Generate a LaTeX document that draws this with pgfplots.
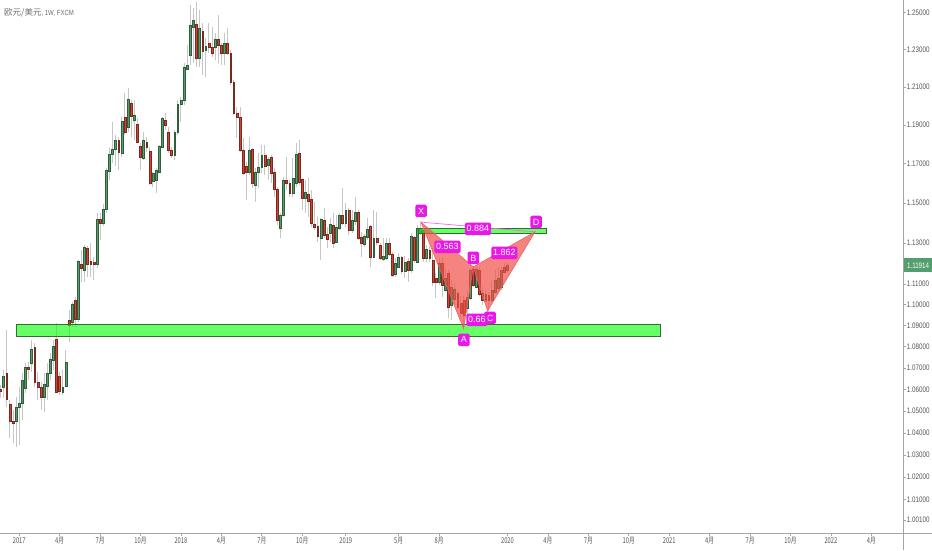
\documentclass[border=0pt]{standalone}
\usepackage{pgfplots}
\pgfplotsset{compat=1.18}
\usepackage{pgfplotstable}
\usepackage{graphicx}
\usepackage{fontspec}
\setmainfont{Liberation Sans}
\newfontfamily\cjk{Noto Sans CJK SC}
\pgfdeclarelayer{background}
\pgfsetlayers{background,main}

\definecolor{upfill}{RGB}{90,155,110}
\definecolor{updraw}{RGB}{45,95,60}
\definecolor{dnfill}{RGB}{205,70,50}
\definecolor{dndraw}{RGB}{125,40,30}
\definecolor{wickc}{RGB}{198,198,198}
\definecolor{axisgray}{RGB}{165,165,165}
\definecolor{labelgray}{RGB}{85,85,85}
\definecolor{titlegray}{RGB}{110,110,110}
\definecolor{zonefill}{RGB}{0,255,0}
\definecolor{zoneedge}{RGB}{50,110,50}
\definecolor{patfill}{RGB}{240,80,70}
\definecolor{patedge}{RGB}{238,95,110}
\definecolor{magbox}{RGB}{232,25,232}
\definecolor{magline}{RGB}{236,110,236}
\definecolor{pricegreen}{RGB}{83,158,108}

\pgfplotstableread{
w o h l c
-6 1.06022 1.06207 1.05605 1.05929
-5 1.06115 1.06907 1.05605 1.06627
-4 1.06767 1.08795 1.05190 1.05559
-3 1.05328 1.05513 1.03773 1.04547
-2 1.04547 1.05052 1.03546 1.04456
-1 1.04547 1.05652 1.03365 1.05190
0 1.05190 1.06115 1.03455 1.05374
1 1.05374 1.06767 1.04593 1.06440
2 1.06068 1.07235 1.05836 1.07047
3 1.07047 1.07282 1.06440 1.06954
4 1.07235 1.08320 1.06814 1.07894
5 1.07989 1.08178 1.06115 1.06347
6 1.06347 1.06814 1.05513 1.06115
7 1.06115 1.06347 1.05052 1.05652
8 1.05652 1.06767 1.04960 1.06254
9 1.06161 1.07235 1.05513 1.06767
10 1.06767 1.07705 1.06440 1.07423
11 1.07376 1.08320 1.06907 1.08036
12 1.08367 1.09129 1.05836 1.05882
13 1.06627 1.06814 1.05744 1.05929
14 1.05882 1.06907 1.05744 1.06115
15 1.06161 1.07847 1.06115 1.07282
16 1.09272 1.09751 1.08225 1.09033
17 1.09176 1.10136 1.08938 1.10039
18 1.10232 1.10377 1.08938 1.09320
19 1.09320 1.12179 1.09176 1.12130
20 1.11983 1.12671 1.11104 1.11787
21 1.11689 1.12918 1.11104 1.12819
22 1.12770 1.12869 1.11347 1.11983
23 1.12130 1.13017 1.11347 1.11983
24 1.12081 1.12327 1.11201 1.11983
25 1.11983 1.14510 1.11787 1.14210
26 1.14210 1.14510 1.13165 1.14010
27 1.14010 1.14961 1.13860 1.14710
28 1.14710 1.16787 1.14510 1.16685
29 1.16634 1.17813 1.16175 1.17504
30 1.17504 1.19162 1.17043 1.17761
31 1.17761 1.18486 1.16889 1.18227
32 1.18227 1.18382 1.16685 1.17607
33 1.17555 1.19423 1.17350 1.19214
34 1.19423 1.20683 1.18486 1.18641
35 1.18901 1.20948 1.18641 1.20367
36 1.20156 1.20314 1.18382 1.19475
37 1.19266 1.20314 1.18227 1.19527
38 1.19057 1.19370 1.18072 1.18123
39 1.17916 1.18072 1.16685 1.17350
40 1.17298 1.18641 1.17196 1.18227
41 1.18123 1.18382 1.17607 1.17864
42 1.17658 1.17864 1.15921 1.16022
43 1.16124 1.16583 1.15820 1.16532
44 1.16175 1.16787 1.15516 1.16685
45 1.16583 1.17968 1.16532 1.17916
46 1.17864 1.19423 1.17813 1.19370
47 1.19266 1.19632 1.18745 1.19005
48 1.18641 1.18901 1.17555 1.17710
49 1.17710 1.17864 1.17298 1.17452
50 1.17452 1.18745 1.17196 1.18641
51 1.18641 1.20314 1.18500 1.20103
52 1.20103 1.20472 1.19162 1.20314
53 1.20314 1.22278 1.20051 1.22064
54 1.21957 1.23245 1.21904 1.22171
55 1.22707 1.25421 1.22171 1.24329
56 1.24220 1.25257 1.22278 1.24601
57 1.24383 1.25586 1.22064 1.22546
58 1.22546 1.25147 1.22064 1.24166
59 1.24003 1.24438 1.21638 1.22922
60 1.22976 1.23623 1.21532 1.23191
61 1.23353 1.24438 1.22815 1.23137
62 1.23137 1.24220 1.22600 1.22815
63 1.23137 1.23895 1.22439 1.23569
64 1.23569 1.24873 1.22278 1.23245
65 1.23245 1.23353 1.22171 1.22815
66 1.22815 1.23895 1.22171 1.23353
67 1.23353 1.24166 1.22707 1.22815
68 1.22815 1.23000 1.21107 1.21266
69 1.21266 1.21372 1.19527 1.19632
70 1.19632 1.19946 1.18330 1.19423
71 1.19423 1.19946 1.17607 1.17710
72 1.17710 1.18330 1.16430 1.16532
73 1.16889 1.17094 1.15163 1.16583
74 1.16583 1.18382 1.16430 1.17710
75 1.17761 1.17813 1.15769 1.16022
76 1.15921 1.16787 1.15062 1.16583
77 1.16583 1.17555 1.15769 1.16838
78 1.16838 1.17968 1.16532 1.17452
79 1.17452 1.17968 1.16430 1.16889
80 1.16940 1.17350 1.16175 1.17247
81 1.17350 1.17452 1.16022 1.16532
82 1.16583 1.16787 1.15314 1.15718
83 1.15718 1.15820 1.13910 1.14160
84 1.13760 1.14510 1.13264 1.14410
85 1.14410 1.16328 1.14310 1.16175
86 1.16175 1.17350 1.15668 1.16022
87 1.16022 1.16175 1.15314 1.15516
88 1.15516 1.17298 1.15314 1.16277
89 1.16022 1.18072 1.15820 1.17504
90 1.17555 1.18227 1.15921 1.16073
91 1.16226 1.16277 1.14660 1.15264
92 1.15264 1.16175 1.14510 1.15567
93 1.15466 1.16277 1.14310 1.15113
94 1.15214 1.15668 1.13810 1.14010
95 1.13960 1.15062 1.13661 1.13810
96 1.13860 1.14310 1.13066 1.13363
97 1.13264 1.14260 1.12179 1.14210
98 1.14160 1.14761 1.13264 1.13413
99 1.13463 1.13810 1.12770 1.13215
100 1.13512 1.14260 1.13066 1.13960
101 1.13910 1.14510 1.12770 1.13017
102 1.13066 1.14410 1.13017 1.13810
103 1.13760 1.14510 1.13661 1.14410
104 1.14410 1.15769 1.13910 1.14010
105 1.14010 1.15012 1.13810 1.14660
106 1.14660 1.14761 1.13413 1.13661
107 1.13661 1.14660 1.13512 1.14160
108 1.14110 1.15314 1.13910 1.14560
109 1.14560 1.14660 1.13165 1.13264
110 1.13314 1.13562 1.12327 1.13017
111 1.12967 1.13463 1.12819 1.13363
112 1.13314 1.14260 1.13165 1.13711
113 1.13860 1.13910 1.11836 1.12327
114 1.12327 1.14660 1.12277 1.13264
115 1.13264 1.14560 1.12918 1.13066
116 1.12918 1.13017 1.12179 1.12277
117 1.12228 1.13264 1.12130 1.12376
118 1.12277 1.13264 1.12179 1.13017
119 1.13017 1.13264 1.12376 1.12474
120 1.12474 1.12573 1.11347 1.11445
121 1.11494 1.12277 1.11347 1.12032
122 1.11836 1.12523 1.11787 1.12327
123 1.12327 1.12376 1.11494 1.11640
124 1.11640 1.12376 1.11299 1.12081
125 1.12130 1.12277 1.11104 1.11689
126 1.11689 1.13512 1.11543 1.13363
127 1.13314 1.13363 1.12032 1.12179
128 1.12081 1.13910 1.12032 1.13760
129 1.13512 1.14050 1.13413 1.13760
130 1.13661 1.13711 1.12081 1.12277
131 1.12277 1.12918 1.12081 1.12720
132 1.12671 1.12869 1.12081 1.12277
133 1.12179 1.12770 1.10910 1.11104
134 1.11299 1.11543 1.10329 1.11104
135 1.11104 1.12277 1.10958 1.12032
136 1.12032 1.12327 1.10377 1.10958
137 1.10716 1.11787 1.10619 1.11299
138 1.11543 1.11689 1.09368 1.09895
139 1.09991 1.11201 1.09272 1.10861
140 1.10280 1.11055 1.09991 1.10764
141 1.10571 1.10668 1.09751 1.09895
142 1.10087 1.10426 1.09368 1.09607
143 1.10232 1.10426 1.08843 1.09511
144 1.09847 1.10716 1.09416 1.10377
145 1.10329 1.11787 1.10232 1.11689
146 1.11738 1.11885 1.10861 1.10958
147 1.10861 1.11836 1.10813 1.11738
148 1.11689 1.11836 1.10426 1.10523
149 1.10571 1.10861 1.09991 1.10232
150 1.10232 1.10716 1.10087 1.10523
151 1.10474 1.10619 1.09703 1.10232
152 1.10232 1.11201 1.10136 1.10716
153 1.10619 1.11689 1.10571 1.11201
154 1.10813 1.11836 1.10619 1.11299
155 1.10861 1.11836 1.10716 1.11689
156 1.11836 1.12032 1.11543 1.11592
157 1.11689 1.12032 1.11592 1.11914
}\candles

\begin{document}
\begin{tikzpicture}[x=1pt,y=1pt]
\begin{axis}[
  scale only axis, width=903pt, height=533pt,
  xmin=-6.174, xmax=284.18,
  y coord trafo/.code={\pgfmathparse{ln(#1)}},
  y coord inv trafo/.code={\pgfmathparse{exp(#1)}},
  ymin=0.99552, ymax=1.25696,
  axis x line*=bottom, axis y line*=right,
  axis line style={draw=axisgray, line width=0.8pt, -},
  tick align=outside, major tick length=3pt,
  tick style={draw=axisgray, line width=0.6pt},
  minor tick num=0,
  xtick={0,13,26,39,52,65,78,91,105,122,135,157,170,183,196,209,222,235,248,261,274},
  xticklabels={2017,4月,7月,10月,2018,4月,7月,10月,2019,5月,8月,2020,4月,7月,10月,2021,4月,7月,10月,2022,4月},
  xticklabel style={font=\cjk\fontsize{8}{9}\selectfont, text=labelgray, xscale=0.72, inner sep=1pt},
  ytick={1.001,1.01,1.02,1.03,1.04,1.05,1.06,1.07,1.08,1.09,1.10,1.11,1.13,1.15,1.17,1.19,1.21,1.23,1.25},
  yticklabels={1.00100,1.01000,1.02000,1.03000,1.04000,1.05000,1.06000,1.07000,1.08000,1.09000,1.10000,1.11000,1.13000,1.15000,1.17000,1.19000,1.21000,1.23000,1.25000},
  yticklabel style={font=\fontsize{8}{9}\selectfont, text=labelgray, xscale=0.78, anchor=west, inner sep=1pt},
  clip mode=individual,
  wick/.style={draw=wickc, line width=0.9pt, mark=none},
  upbody/.style={fill=upfill, draw=updraw, line width=0.5pt, mark=none},
  dnbody/.style={fill=dnfill, draw=dndraw, line width=0.5pt, mark=none},
]
\pgfplotstablegetrowsof{\candles}
\pgfmathtruncatemacro\nrows{\pgfplotsretval-1}
\pgfplotsforeachungrouped \i in {0,...,\nrows}{%
  \pgfplotstablegetelem{\i}{w}\of\candles\let\cw\pgfplotsretval
  \pgfplotstablegetelem{\i}{o}\of\candles\let\co\pgfplotsretval
  \pgfplotstablegetelem{\i}{h}\of\candles\let\ch\pgfplotsretval
  \pgfplotstablegetelem{\i}{l}\of\candles\let\cl\pgfplotsretval
  \pgfplotstablegetelem{\i}{c}\of\candles\let\cc\pgfplotsretval
  \pgfmathsetmacro\xa{\cw-0.3}%
  \pgfmathsetmacro\xb{\cw+0.3}%
  \pgfmathtruncatemacro\isup{\cc>=\co}%
  \ifnum\isup=1 \def\bst{upbody}\else\def\bst{dnbody}\fi
  \edef\tmp{\noexpand\addplot[wick] coordinates {(\cw,\cl) (\cw,\ch)};
    \noexpand\addplot[\bst] coordinates {(\xa,\co) (\xb,\co) (\xb,\cc) (\xa,\cc)} -- cycle;}%
  \tmp
}
% support zones
\addplot[fill=zonefill, fill opacity=0.6, draw=zoneedge, line width=0.8pt, mark=none]
  coordinates {(-1.03,1.08462) (206.05,1.08462) (206.05,1.09033) (-1.03,1.09033)} -- cycle;
\addplot[fill=zonefill, fill opacity=0.6, draw=zoneedge, line width=0.8pt, mark=none]
  coordinates {(128.2,1.13512) (169.4,1.13512) (169.4,1.13711) (128.2,1.13711)} -- cycle;
% harmonic pattern
\addplot[fill=patfill, fill opacity=0.7, draw=patedge, line width=0.6pt, mark=none]
  coordinates {(129.2,1.14050) (142.9,1.08843) (146.0,1.11836)} -- cycle;
\addplot[fill=patfill, fill opacity=0.7, draw=patedge, line width=0.6pt, mark=none]
  coordinates {(146.0,1.11836) (150.6,1.09703) (165.85,1.13562)} -- cycle;
\addplot[draw=magline, line width=0.7pt, mark=none]
  coordinates {(129.2,1.14050) (165.85,1.13562)};
\addplot[draw=magline, line width=0.6pt, dotted, mark=none]
  coordinates {(142.9,1.08843) (150.6,1.09703)};
\tikzset{lab/.style={fill=magbox, text=white, rounded corners=1.5pt, inner sep=1.8pt,
   font=\fontsize{9}{10}\selectfont, minimum height=12.5pt, minimum width=11.5pt}}
\node[lab] at (axis cs:129.2,1.14610) {X};
\node[lab] at (axis cs:166.2,1.14060) {D};
\node[lab] at (axis cs:146.0,1.12277) {B};
\node[lab] at (axis cs:143.0,1.08320) {A};
\node[lab] at (axis cs:151.4,1.09368) {C};
\node[lab] at (axis cs:147.5,1.13711) {0.884};
\node[lab] at (axis cs:137.7,1.12819) {0.563};
\node[lab] at (axis cs:156.0,1.12523) {1.862};
\node[lab] at (axis cs:147.2,1.09272) {0.66};
\coordinate (pp) at (axis cs:284.18,1.11914);
\coordinate (sw) at (rel axis cs:0,0);
\end{axis}
\pgfresetboundingbox
\path[use as bounding box] ([yshift=-17pt]sw) rectangle ([xshift=932pt,yshift=533pt]sw);
\begin{pgfonlayer}{background}
\fill[white] ([yshift=-17pt]sw) rectangle ([xshift=932pt,yshift=533pt]sw);
\end{pgfonlayer}
\draw[axisgray, line width=0.8pt] (sw) -- ([xshift=932pt]sw);
\draw[axisgray, line width=0.8pt] ([xshift=903pt,yshift=-17pt]sw) -- ([xshift=903pt,yshift=533pt]sw);
\node[fill=pricegreen, text=white, anchor=west, inner sep=0pt, minimum height=14pt, minimum width=29pt,
  font=\fontsize{8}{9}\selectfont] at ([xshift=0.4pt]pp) {\scalebox{0.78}[1]{1.11914}};
\node[anchor=west, text=titlegray, inner sep=0pt] at ([xshift=4pt,yshift=520pt]sw)
  {\cjk\fontsize{8.5}{10}\selectfont 欧元/美元\scalebox{0.8}[1]{\normalfont\fontsize{7.5}{9}\selectfont, 1W, FXCM}};
\end{tikzpicture}
\end{document}
